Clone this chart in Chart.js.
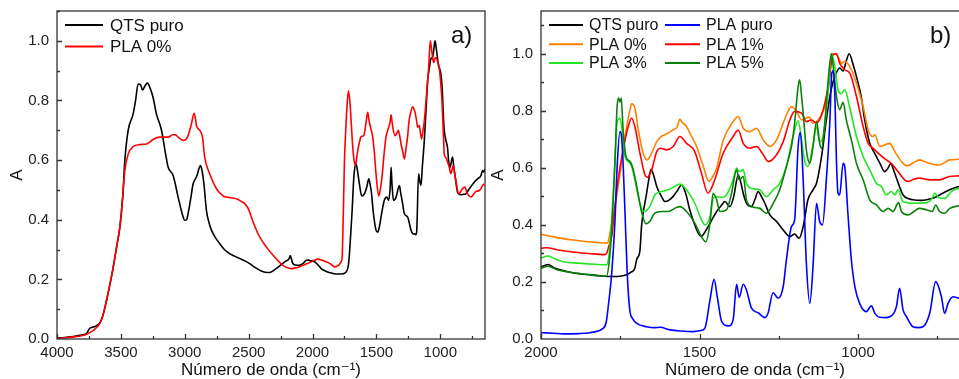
<!DOCTYPE html>
<html><head><meta charset="utf-8">
<script src="https://cdn.jsdelivr.net/npm/chart.js@4.4.1/dist/chart.umd.min.js"></script>
<style>
html,body{margin:0;padding:0;background:#fff;width:959px;height:379px;overflow:hidden;position:relative;}
#ca{position:absolute;left:0;top:0;}
#cb{position:absolute;left:487px;top:0;}
</style></head><body>
<canvas id="ca" width="487" height="379"></canvas>
<canvas id="cb" width="490" height="379"></canvas>
<script>
// ---------- Panel a data ----------
const wnA_QTS = [4000,3940,3873,3800,3768,3745,3735,3715,3690,3664,3640,3612,3585,3560,3535,3508,3485,3469,3443,3404,3385,3365,3345,3331,3310,3292,3270,3248,3222,3182,3150,3130,3091,3052,3020,3000,2985,2974,2950,2935,2917,2904,2890,2877,2865,2850,2830,2810,2791,2760,2727,2690,2648,2610,2570,2530,2492,2450,2401,2370,2336,2310,2284,2250,2206,2185,2174,2165,2154,2130,2102,2075,2049,2030,2018,2005,1984,1960,1932,1900,1867,1830,1789,1760,1737,1720,1711,1700,1690,1680,1672,1659,1650,1633,1615,1594,1575,1560,1550,1541,1523,1503,1490,1475,1464,1438,1420,1404,1392,1385,1378,1367,1346,1320,1310,1299,1281,1255,1229,1210,1203,1192,1185,1170,1160,1151,1140,1125,1110,1099,1085,1073,1060,1050,1041,1030,1015,995,985,975,969,956,943,935,924,917,904,895,883,865,839,820,800,773,734,708,682,669,660,650];
const absA_QTS = [0.003,0.005,0.008,0.014,0.019,0.035,0.038,0.040,0.045,0.055,0.080,0.130,0.185,0.240,0.305,0.375,0.480,0.600,0.700,0.755,0.800,0.855,0.852,0.835,0.850,0.858,0.840,0.810,0.755,0.700,0.620,0.576,0.548,0.476,0.420,0.398,0.400,0.420,0.480,0.520,0.537,0.548,0.570,0.582,0.565,0.520,0.430,0.390,0.365,0.340,0.320,0.300,0.286,0.278,0.270,0.262,0.253,0.240,0.228,0.224,0.223,0.228,0.236,0.248,0.262,0.268,0.280,0.268,0.253,0.248,0.247,0.253,0.264,0.265,0.262,0.263,0.259,0.250,0.236,0.228,0.223,0.219,0.218,0.219,0.225,0.245,0.286,0.360,0.430,0.520,0.565,0.587,0.570,0.520,0.480,0.487,0.510,0.537,0.520,0.498,0.420,0.365,0.358,0.380,0.409,0.465,0.476,0.465,0.510,0.576,0.520,0.465,0.476,0.515,0.490,0.465,0.420,0.409,0.365,0.352,0.353,0.350,0.358,0.554,0.530,0.515,0.580,0.666,0.780,0.866,0.910,0.940,0.945,0.975,1.000,0.970,0.920,0.888,0.840,0.740,0.700,0.666,0.640,0.599,0.576,0.587,0.610,0.580,0.544,0.493,0.484,0.485,0.487,0.504,0.526,0.537,0.548,0.565,0.560,0.570];

const wnA_PLA0 = [4000,3940,3873,3800,3768,3740,3700,3664,3640,3612,3585,3560,3535,3508,3495,3480,3469,3443,3404,3352,3300,3270,3248,3196,3130,3091,3070,3052,3013,2995,2974,2948,2927,2915,2909,2883,2862,2844,2805,2752,2700,2674,2596,2560,2531,2500,2479,2427,2362,2297,2232,2190,2159,2120,2076,2040,2010,1980,1958,1930,1893,1860,1828,1800,1789,1775,1768,1760,1750,1740,1732,1719,1706,1695,1685,1675,1664,1655,1646,1630,1620,1599,1590,1581,1568,1560,1555,1540,1529,1515,1503,1482,1470,1456,1440,1425,1404,1392,1385,1378,1372,1354,1340,1328,1315,1307,1295,1281,1268,1255,1245,1234,1216,1205,1195,1185,1177,1164,1155,1146,1135,1125,1107,1091,1078,1065,1052,1043,1034,1020,1008,995,987,975,969,960,951,930,917,905,898,888,878,857,840,826,815,805,794,775,760,740,727,695,680,669,655];
const absA_PLA0 = [0.002,0.004,0.007,0.012,0.016,0.022,0.035,0.052,0.080,0.130,0.185,0.240,0.305,0.375,0.430,0.510,0.565,0.620,0.645,0.652,0.654,0.662,0.669,0.677,0.677,0.686,0.684,0.677,0.666,0.668,0.682,0.721,0.757,0.735,0.716,0.700,0.679,0.610,0.554,0.504,0.480,0.476,0.470,0.462,0.454,0.435,0.409,0.353,0.309,0.275,0.247,0.238,0.236,0.240,0.247,0.253,0.259,0.265,0.268,0.265,0.259,0.252,0.242,0.246,0.251,0.260,0.275,0.400,0.599,0.700,0.766,0.833,0.788,0.710,0.643,0.600,0.582,0.605,0.632,0.665,0.679,0.682,0.700,0.727,0.760,0.740,0.727,0.700,0.677,0.620,0.554,0.480,0.500,0.544,0.620,0.677,0.710,0.730,0.752,0.730,0.710,0.682,0.690,0.700,0.675,0.654,0.630,0.604,0.640,0.682,0.730,0.755,0.779,0.770,0.755,0.730,0.710,0.716,0.690,0.671,0.700,0.732,0.822,0.910,1.000,0.960,0.927,0.940,0.944,0.930,0.910,0.850,0.800,0.680,0.620,0.610,0.604,0.576,0.554,0.575,0.582,0.555,0.532,0.487,0.495,0.504,0.508,0.510,0.493,0.480,0.476,0.485,0.493,0.498,0.505,0.515,0.520];

// ---------- Panel b data ----------
const wnB_QTS = [2000,1990,1978,1960,1930,1900,1870,1846,1810,1772,1750,1730,1715,1704,1698,1688,1683,1678,1667,1660,1653,1645,1635,1620,1609,1595,1583,1570,1557,1545,1530,1515,1504,1495,1489,1475,1467,1446,1430,1420,1404,1392,1378,1370,1362,1352,1336,1325,1315,1305,1294,1278,1257,1236,1215,1200,1186,1173,1158,1142,1131,1115,1100,1089,1079,1068,1058,1047,1037,1028,1015,1005,990,979,963,947,931,916,905,897,884,869,858,840,827,800,784,760,743,711,682,650];
const absB_QTS = [0.253,0.257,0.261,0.250,0.240,0.232,0.228,0.225,0.221,0.219,0.220,0.225,0.235,0.248,0.280,0.310,0.394,0.440,0.510,0.560,0.595,0.575,0.535,0.500,0.482,0.488,0.500,0.520,0.540,0.515,0.450,0.400,0.371,0.360,0.365,0.390,0.406,0.447,0.470,0.482,0.464,0.500,0.575,0.550,0.510,0.476,0.464,0.490,0.517,0.500,0.476,0.435,0.412,0.382,0.359,0.368,0.353,0.394,0.488,0.523,0.546,0.640,0.768,0.850,0.900,0.935,0.950,0.940,0.975,1.000,0.960,0.920,0.850,0.768,0.686,0.650,0.616,0.587,0.600,0.615,0.580,0.534,0.505,0.492,0.488,0.486,0.488,0.495,0.505,0.523,0.535,0.540];

const wnB_PLApuro = [2000,1960,1930,1880,1846,1820,1809,1795,1788,1777,1767,1760,1751,1746,1741,1735,1728,1720,1710,1698,1667,1640,1625,1593,1560,1520,1495,1483,1467,1454,1444,1430,1409,1394,1383,1375,1362,1352,1336,1315,1294,1284,1268,1252,1236,1226,1210,1200,1189,1182,1173,1163,1152,1142,1131,1121,1112,1100,1089,1083,1078,1073,1068,1063,1058,1047,1042,1032,1021,1010,995,974,958,947,931,915,900,879,869,858,847,827,810,795,774,755,737,727,716,700,682,650];
const absB_PLApuro = [0.022,0.020,0.018,0.019,0.022,0.028,0.034,0.055,0.113,0.230,0.406,0.600,0.727,0.710,0.616,0.441,0.230,0.102,0.070,0.055,0.043,0.040,0.041,0.032,0.028,0.026,0.030,0.038,0.137,0.209,0.148,0.061,0.046,0.067,0.192,0.146,0.192,0.172,0.108,0.092,0.075,0.090,0.162,0.143,0.184,0.277,0.394,0.418,0.675,0.725,0.558,0.266,0.125,0.254,0.476,0.412,0.400,0.558,0.760,0.930,0.940,0.850,0.620,0.511,0.505,0.616,0.605,0.441,0.277,0.184,0.125,0.096,0.116,0.090,0.076,0.075,0.078,0.113,0.178,0.102,0.078,0.043,0.040,0.043,0.090,0.201,0.148,0.090,0.125,0.148,0.143,0.140];

const wnB_PLA0 = [2000,1960,1930,1898,1860,1820,1793,1788,1778,1767,1756,1746,1737,1728,1720,1714,1704,1693,1678,1665,1651,1635,1620,1609,1583,1570,1562,1555,1541,1525,1509,1488,1470,1458,1446,1425,1394,1378,1362,1341,1320,1299,1278,1257,1236,1220,1210,1194,1178,1165,1154,1142,1126,1110,1095,1089,1082,1073,1063,1052,1042,1026,1005,984,968,953,947,931,916,900,884,863,845,825,806,790,774,743,711,682,650];
const absB_PLA0 = [0.367,0.358,0.352,0.347,0.342,0.338,0.336,0.341,0.400,0.464,0.540,0.616,0.690,0.757,0.800,0.825,0.810,0.733,0.652,0.628,0.652,0.692,0.710,0.716,0.733,0.745,0.771,0.760,0.745,0.710,0.675,0.605,0.552,0.570,0.599,0.698,0.762,0.780,0.739,0.727,0.739,0.698,0.675,0.698,0.757,0.800,0.815,0.798,0.768,0.774,0.778,0.757,0.768,0.798,0.860,0.930,1.000,1.000,0.990,0.967,0.973,0.955,0.897,0.815,0.733,0.710,0.716,0.675,0.680,0.686,0.657,0.622,0.607,0.618,0.628,0.622,0.616,0.610,0.628,0.630,0.635];

const wnB_PLA1 = [2000,1982,1950,1900,1850,1800,1793,1785,1777,1769,1761,1751,1741,1725,1714,1704,1688,1672,1665,1651,1635,1623,1604,1583,1562,1541,1515,1494,1473,1460,1452,1425,1394,1378,1362,1341,1320,1299,1283,1257,1236,1215,1200,1178,1163,1147,1131,1115,1094,1079,1068,1058,1042,1026,1005,984,968,953,937,911,895,874,853,842,825,806,774,743,711,682,650];
const absB_PLA1 = [0.318,0.320,0.313,0.305,0.300,0.296,0.300,0.330,0.359,0.440,0.523,0.600,0.663,0.745,0.774,0.745,0.652,0.575,0.567,0.593,0.657,0.669,0.663,0.675,0.710,0.686,0.657,0.581,0.511,0.535,0.558,0.652,0.710,0.733,0.686,0.669,0.675,0.646,0.622,0.646,0.692,0.768,0.798,0.792,0.762,0.768,0.757,0.786,0.885,0.996,1.000,0.967,0.944,0.932,0.850,0.745,0.686,0.669,0.652,0.628,0.616,0.587,0.558,0.552,0.560,0.564,0.558,0.558,0.570,0.572,0.575];

const wnB_PLA3 = [2000,1978,1950,1930,1880,1830,1793,1785,1777,1767,1760,1751,1743,1735,1725,1714,1704,1688,1675,1657,1641,1620,1599,1578,1562,1541,1515,1494,1483,1467,1457,1446,1430,1415,1394,1383,1375,1362,1352,1336,1310,1289,1268,1247,1226,1205,1189,1178,1168,1158,1142,1131,1121,1110,1094,1084,1074,1063,1053,1042,1026,1005,984,963,942,926,911,895,884,874,858,827,784,768,758,745,727,706,682,650];
const absB_PLA3 = [0.283,0.291,0.278,0.271,0.266,0.262,0.260,0.300,0.418,0.616,0.757,0.774,0.721,0.640,0.622,0.605,0.558,0.476,0.447,0.464,0.505,0.517,0.523,0.535,0.543,0.523,0.476,0.418,0.400,0.429,0.493,0.499,0.497,0.505,0.558,0.599,0.587,0.593,0.546,0.528,0.523,0.499,0.523,0.546,0.605,0.710,0.765,0.698,0.622,0.605,0.681,0.745,0.692,0.710,0.874,1.000,0.960,0.874,0.860,0.875,0.810,0.710,0.640,0.593,0.546,0.535,0.505,0.517,0.505,0.523,0.482,0.476,0.478,0.490,0.511,0.495,0.493,0.517,0.528,0.530];

const wnB_PLA5 = [2000,1978,1950,1919,1870,1830,1793,1785,1777,1767,1760,1755,1751,1747,1741,1732,1719,1709,1698,1683,1669,1657,1641,1620,1599,1573,1562,1541,1515,1494,1480,1467,1457,1446,1436,1415,1399,1383,1375,1362,1352,1336,1310,1289,1270,1247,1226,1210,1200,1189,1184,1178,1173,1163,1152,1142,1131,1121,1115,1105,1094,1084,1076,1068,1058,1047,1037,1021,1005,984,963,942,921,905,890,872,863,842,806,784,766,755,743,727,711,682,650];
const absB_PLA5 = [0.248,0.255,0.243,0.236,0.228,0.224,0.221,0.270,0.382,0.616,0.815,0.845,0.830,0.845,0.733,0.640,0.622,0.593,0.535,0.447,0.404,0.412,0.441,0.447,0.447,0.461,0.464,0.447,0.406,0.359,0.341,0.406,0.511,0.488,0.447,0.453,0.511,0.593,0.558,0.570,0.488,0.464,0.458,0.441,0.470,0.523,0.605,0.675,0.757,0.885,0.909,0.850,0.792,0.663,0.616,0.675,0.762,0.686,0.669,0.757,0.909,1.000,0.930,0.850,0.804,0.830,0.768,0.698,0.616,0.558,0.488,0.470,0.447,0.458,0.447,0.478,0.447,0.435,0.458,0.453,0.447,0.470,0.447,0.441,0.458,0.467,0.470];

// ---------- Labels & ticks ----------
const xTitle = 'Número de onda (cm⁻¹)';
const yTitle = 'A';
const xTicksA = [4000,3500,3000,2500,2000,1500,1000];
const xTicksB = [2000,1500,1000];
const yTicks = [0,0.2,0.4,0.6,0.8,1.0];
const xTickStep = 500;
const yTickStep = 0.2;
const legendA = ['QTS puro','PLA 0%'];
const legendB = ['QTS puro','PLA puro','PLA 0%','PLA 1%','PLA 3%','PLA 5%'];

const COL = {black:'#000000', red:'#ff0000', blue:'#0000ff', orange:'#ff8000', lgreen:'#22e622', dgreen:'#0a820a'};
const FONT = "'Liberation Sans', Arial, 'DejaVu Sans', sans-serif";

function pts(wn, ab){ return wn.map((w,i)=>({x:w, y:ab[i]})); }
function ds(label, wn, ab, color, order){
  return {label, data: pts(wn,ab), borderColor: color, backgroundColor: color, borderWidth: 1.6,
    pointRadius: 0, cubicInterpolationMode: 'monotone', fill: false, order};
}

const framePlugin = {
  id: 'frame',
  afterDraw(chart) {
    const o = chart.options.plugins.frame;
    const {ctx, chartArea: a, scales} = chart;
    ctx.save();
    ctx.strokeStyle = '#333'; ctx.lineWidth = 1.3;
    ctx.strokeRect(a.left, a.top, a.right - a.left, a.bottom - a.top);
    ctx.beginPath();
    const xs = scales.x, ys = scales.y;
    const hx = o.xStep/2;
    for (let v = Math.ceil(xs.min/hx)*hx; v <= xs.max + 1e-9; v += hx) {
      const px = Math.round(xs.getPixelForValue(v)) + 0.5;
      const major = Math.abs(v/o.xStep - Math.round(v/o.xStep)) < 1e-6;
      ctx.moveTo(px, a.bottom); ctx.lineTo(px, a.bottom - (major ? 5 : 3));
    }
    const hy = o.yStep/2;
    for (let k = 1; k*hy <= ys.max + 1e-9; k++) {
      const v = k*hy;
      const py = Math.round(ys.getPixelForValue(v)) + 0.5;
      const major = k % 2 === 0;
      ctx.moveTo(a.left, py); ctx.lineTo(a.left + (major ? 5 : 3), py);
    }
    ctx.stroke();
    // legend
    ctx.textBaseline = 'middle'; ctx.textAlign = 'left';
    ctx.font = o.legendFont + 'px ' + FONT;
    o.legend.forEach(it => {
      ctx.strokeStyle = it.color; ctx.lineWidth = 2;
      ctx.beginPath(); ctx.moveTo(it.x1, it.y); ctx.lineTo(it.x2, it.y); ctx.stroke();
      ctx.fillStyle = '#111'; ctx.fillText(it.text, it.tx, it.y + 1);
    });
    // panel tag
    ctx.font = '24px ' + FONT; ctx.fillStyle = '#111'; ctx.textBaseline = 'alphabetic';
    ctx.fillText(o.tag, o.tagX, o.tagY);
    ctx.restore();
  }
};

function makeOptions(yMax, yAxisW, padRight, yTitlePad, xTicks, frameOpts){
  return {
    responsive: false, animation: false, devicePixelRatio: 1,
    layout: {padding: {top: 11, right: padRight, left: 0, bottom: 0}},
    plugins: {legend: {display: false}, tooltip: {enabled: false}, frame: frameOpts},
    scales: {
      x: {type: 'linear', reverse: true, min: 650, max: frameOpts.xMax,
        grid: {display: false, drawTicks: false}, border: {display: false},
        ticks: {autoSkip: false, padding: 5, color: '#222', maxRotation: 0, minRotation: 0,
          font: {family: FONT, size: 15}, callback: v => String(v)},
        afterBuildTicks: s => { s.ticks = xTicks.map(v => ({value: v})); },
        title: {display: true, text: xTitle, color: '#111', font: {family: FONT, size: 17, lineHeight: 1}, padding: {top: 0, bottom: 0}},
        afterFit: s => { s.height = 40; s.paddingLeft = 0; s.paddingRight = 0; }
      },
      y: {type: 'linear', min: 0, max: yMax,
        grid: {display: false, drawTicks: false}, border: {display: false},
        ticks: {autoSkip: false, padding: 8, color: '#222',
          font: {family: FONT, size: 15}, callback: v => Number(v).toFixed(1)},
        afterBuildTicks: s => { s.ticks = yTicks.map(v => ({value: v})); },
        title: {display: true, text: yTitle, color: '#111', font: {family: FONT, size: 17, lineHeight: 1.2}, padding: {top: yTitlePad, bottom: 0}},
        afterFit: s => { s.width = yAxisW; s.paddingTop = 0; s.paddingBottom = 0; }
      }
    }
  };
}

new Chart(document.getElementById('ca'), {
  type: 'line',
  data: {datasets: [
    ds(legendA[0], wnA_QTS, absA_QTS, COL.black, 2),
    ds(legendA[1], wnA_PLA0, absA_PLA0, COL.red, 1)
  ]},
  options: makeOptions(1.1, 57, 2, 7, xTicksA, {
    xStep: xTickStep, yStep: yTickStep, xMax: 4000, legendFont: 17,
    legend: [
      {text: legendA[0], color: COL.black, x1: 65, x2: 103, tx: 110, y: 25},
      {text: legendA[1], color: COL.red, x1: 65, x2: 103, tx: 110, y: 46.5}
    ],
    tag: 'a)', tagX: 451, tagY: 43
  }),
  plugins: [framePlugin]
});

new Chart(document.getElementById('cb'), {
  type: 'line',
  data: {datasets: [
    ds(legendB[0], wnB_QTS, absB_QTS, COL.black, 5),
    ds(legendB[1], wnB_PLApuro, absB_PLApuro, COL.blue, 0),
    ds(legendB[2], wnB_PLA0, absB_PLA0, COL.orange, 4),
    ds(legendB[3], wnB_PLA1, absB_PLA1, COL.red, 3),
    ds(legendB[4], wnB_PLA3, absB_PLA3, COL.lgreen, 2),
    ds(legendB[5], wnB_PLA5, absB_PLA5, COL.dgreen, 1)
  ]},
  options: makeOptions(1.15, 54, 8, 1, xTicksB, {
    xStep: xTickStep, yStep: yTickStep, xMax: 2000, legendFont: 16,
    legend: [
      {text: legendB[0], color: COL.black, x1: 62, x2: 96, tx: 102, y: 25},
      {text: legendB[1], color: COL.blue, x1: 178, x2: 213, tx: 219, y: 25},
      {text: legendB[2], color: COL.orange, x1: 62, x2: 96, tx: 102, y: 44.3},
      {text: legendB[3], color: COL.red, x1: 178, x2: 213, tx: 219, y: 44.3},
      {text: legendB[4], color: COL.lgreen, x1: 62, x2: 96, tx: 102, y: 63},
      {text: legendB[5], color: COL.dgreen, x1: 178, x2: 213, tx: 219, y: 63}
    ],
    tag: 'b)', tagX: 443, tagY: 43
  }),
  plugins: [framePlugin]
});
</script>
</body></html>
